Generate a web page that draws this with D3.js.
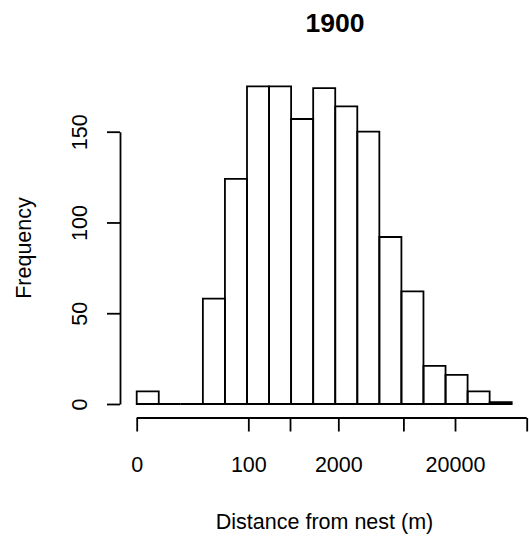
<!DOCTYPE html>
<html>
<head>
<meta charset="utf-8">
<script src="https://cdn.jsdelivr.net/npm/d3@7"></script>
<style>
  body { margin: 0; background: #fff; }
  text { font-family: "Liberation Sans", Arial, sans-serif; fill: #000; }
</style>
</head>
<body>
<svg id="chart" width="529" height="541"></svg>
<script>
// Histogram bin counts (17 equal-width bins on a transformed distance axis)
const binCounts = [7, 0, 0, 58, 124, 175, 175, 157, 174, 164, 150, 92, 62, 21, 16, 7, 1];
// x-axis tick positions (in bin units) and their labels (blank = label hidden by overlap)
const xTickPositions = [0, 5.06, 6.95, 9.14, 12.09, 14.43, 17.68];
const xTickLabels = ["0", "100", "", "2000", "", "20000", ""];
const yTickValues = [0, 50, 100, 150];
const titleText = "1900";
const xLabel = "Distance from nest (m)";
const yLabel = "Frequency";

const svg = d3.select("#chart");
const lw = 1.8;

const x = d3.scaleLinear().domain([0, binCounts.length]).range([136.7, 511.7]);
const y = d3.scaleLinear().domain([0, 150]).range([404, 131.7]);

// Bars
svg.append("g").selectAll("path").data(binCounts).join("path")
  .attr("d", (d, i) => {
    const x0 = x(i), x1 = x(i + 1), y0 = y(0), y1 = y(d);
    return `M${x0},${y0}V${y1}H${x1}V${y0}Z`;
  })
  .attr("fill", "none")
  .attr("stroke", "#000")
  .attr("stroke-width", lw)
  .attr("stroke-linejoin", "miter");

// X axis
const xAxis = d3.axisBottom(x)
  .tickValues(xTickPositions)
  .tickFormat((d, i) => xTickLabels[i])
  .tickSize(13.5)
  .tickSizeOuter(0)
  .tickPadding(25);
const gx = svg.append("g").attr("transform", "translate(0,418)").call(xAxis);
gx.select(".domain")
  .attr("d", `M${x(xTickPositions[0])},0H${x(xTickPositions[xTickPositions.length - 1])}`)
  .attr("stroke-width", lw);
gx.selectAll(".tick line").attr("stroke-width", lw);
gx.selectAll(".tick text").attr("font-size", "21.5px").attr("font-family", "Liberation Sans, Arial, sans-serif");

// Y axis
const yAxis = d3.axisLeft(y)
  .tickValues(yTickValues)
  .tickSize(13)
  .tickSizeOuter(0)
  .tickPadding(0);
const gy = svg.append("g").attr("transform", "translate(120,0)").call(yAxis);
gy.select(".domain").attr("stroke-width", lw);
gy.selectAll(".tick line").attr("stroke-width", lw);
gy.selectAll(".tick text")
  .attr("font-size", "21.5px")
  .attr("font-family", "Liberation Sans, Arial, sans-serif")
  .attr("text-anchor", "middle")
  .attr("dy", 0)
  .attr("x", 0)
  .attr("transform", "translate(-32.7,0) rotate(-90)");

// Title
svg.append("text")
  .attr("x", 335).attr("y", 32)
  .attr("text-anchor", "middle")
  .attr("font-size", "26.5px")
  .attr("font-weight", "bold")
  .text(titleText);

// X label
svg.append("text")
  .attr("x", 324.5).attr("y", 528.5)
  .attr("text-anchor", "middle")
  .attr("font-size", "21.5px")
  .text(xLabel);

// Y label
svg.append("text")
  .attr("transform", "translate(30.5,248) rotate(-90)")
  .attr("text-anchor", "middle")
  .attr("font-size", "21.5px")
  .text(yLabel);
</script>
</body>
</html>
